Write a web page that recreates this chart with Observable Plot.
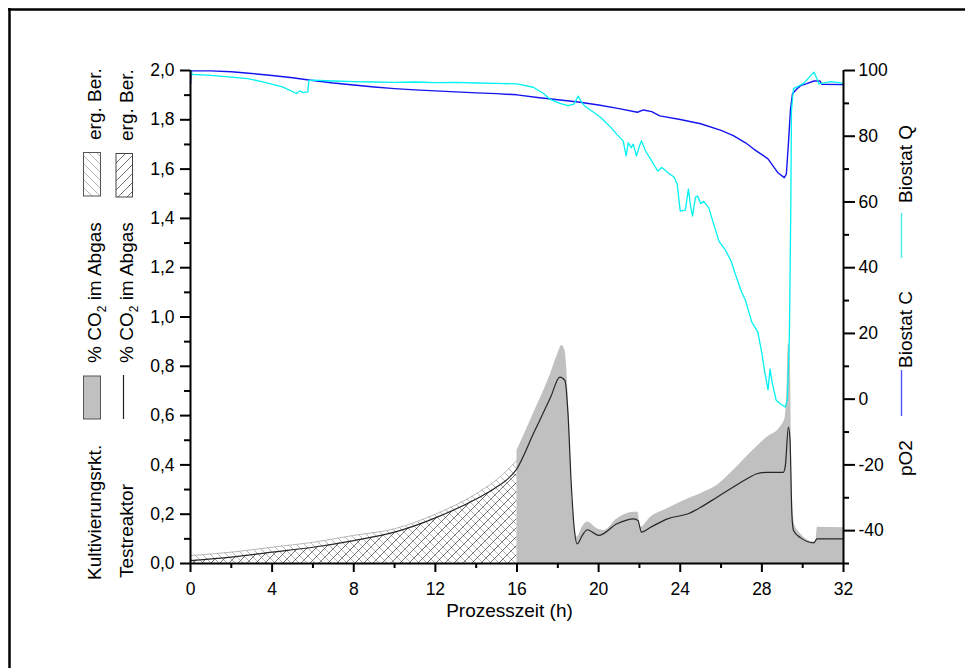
<!DOCTYPE html>
<html>
<head>
<meta charset="utf-8">
<script src="https://cdn.jsdelivr.net/npm/d3@7"></script>
<script src="https://cdn.jsdelivr.net/npm/@observablehq/plot@0.6"></script>
<style>
  html, body { margin: 0; padding: 0; background: #fff; overflow: hidden; }
  #chart svg { display: block; }
</style>
</head>
<body>
<div id="chart"></div>
<script>
// ---------- data ----------
// Time axis ticks (h)
const xTicks = [0, 4, 8, 12, 16, 20, 24, 28, 32];
const xMinor = [2, 6, 10, 14, 18, 22, 26, 30];
// Left axis (% CO2)
const leftTicks = [0, 0.2, 0.4, 0.6, 0.8, 1.0, 1.2, 1.4, 1.6, 1.8, 2.0];
const leftMinor = [0.1, 0.3, 0.5, 0.7, 0.9, 1.1, 1.3, 1.5, 1.7, 1.9];
// Right axis (pO2)
const rightTicks = [-40, -20, 0, 20, 40, 60, 80, 100];
const rightMinor = [-50, -30, -10, 10, 30, 50, 70, 90];

// Kultivierungsrkt. % CO2 – supplemented calculation (hatched, 0–16 h)
const kultCalcT = [0, 2, 4, 6, 8, 10, 12, 14, 15, 16];
const kultCalcV = [0.032, 0.046, 0.066, 0.086, 0.114, 0.141, 0.200, 0.283, 0.340, 0.418];

// Kultivierungsrkt. % CO2 im Abgas (grey area, 16–32 h)
const kultT = [16, 16.8, 17.65, 18.0, 18.2, 18.35, 18.55, 18.7, 18.95, 19.2, 19.45, 19.93, 20.25, 20.9, 21.73, 21.93, 22.05, 22.55, 23.37, 24.2, 25.0, 25.8, 26.6, 27.4, 28.25, 28.9, 29.15, 29.25, 29.3, 29.38, 29.5, 29.6, 29.9, 30.55, 30.65, 30.72, 32];
const kultV = [0.458, 0.607, 0.770, 0.850, 0.884, 0.864, 0.608, 0.270, 0.107, 0.147, 0.168, 0.141, 0.134, 0.181, 0.208, 0.208, 0.147, 0.188, 0.222, 0.256, 0.283, 0.316, 0.377, 0.445, 0.512, 0.553, 0.593, 0.750, 0.890, 0.880, 0.270, 0.160, 0.120, 0.087, 0.090, 0.147, 0.145];

// Testreaktor % CO2 im Abgas (black line; 0–16 h hatched "erg. Ber.")
const testT = [0, 2, 4, 6, 8, 10, 12, 14, 15, 16, 16.8, 17.65, 18.1, 18.35, 18.5, 18.65, 18.8, 18.95, 19.2, 19.45, 20.0, 20.9, 21.73, 21.93, 22.1, 22.55, 23.37, 24.45, 25.0, 25.8, 26.6, 27.4, 27.75, 28.25, 29.05, 29.15, 29.3, 29.38, 29.47, 29.55, 29.9, 30.55, 30.7, 32];
const testV = [0.012, 0.026, 0.046, 0.066, 0.093, 0.127, 0.185, 0.262, 0.310, 0.385, 0.526, 0.675, 0.756, 0.742, 0.607, 0.337, 0.147, 0.080, 0.114, 0.137, 0.114, 0.161, 0.181, 0.174, 0.127, 0.147, 0.181, 0.204, 0.228, 0.269, 0.310, 0.350, 0.364, 0.370, 0.370, 0.397, 0.553, 0.500, 0.200, 0.134, 0.104, 0.084, 0.100, 0.100];

// pO2 Biostat C (blue)
const bioCT = [0, 0.03, 1, 2, 3, 4, 5, 5.8, 7, 8, 9, 10, 11, 12, 13, 14, 15, 16, 17, 18, 19, 20, 21, 21.9, 22.2, 22.6, 23, 24, 25, 26, 26.6, 27.2, 27.6, 28, 28.3, 28.8, 29.1, 29.2, 29.3, 29.4, 29.5, 29.7, 29.9, 30.2, 30.55, 30.85, 30.95, 32];
const bioCV = [96, 99.9, 99.9, 99.6, 99.1, 98.5, 97.8, 97.1, 96.2, 95.6, 95.0, 94.5, 94.1, 93.8, 93.5, 93.2, 92.95, 92.6, 91.8, 91.1, 90.4, 89.5, 88.4, 87.3, 88.0, 87.5, 86.2, 85.1, 83.8, 81.8, 80.2, 78.0, 76.1, 74.4, 73.1, 68.8, 67.4, 68.5, 77.7, 88, 92.9, 94.3, 95.4, 96.0, 96.8, 96.8, 95.8, 95.7];

// pO2 Biostat Q (cyan)
const bioQT = [0, 0.1, 1, 2, 2.8, 3.5, 4.5, 5.2, 5.35, 5.5, 5.75, 5.8, 6, 7, 8, 9, 10, 11, 12, 13, 14, 15, 16, 16.8, 17.3, 17.6, 18.1, 18.5, 18.8, 19.0, 19.15, 19.3, 19.7, 20.1, 20.6, 20.9, 21.2, 21.35, 21.45, 21.6, 21.7, 21.85, 22.0, 22.1, 22.3, 22.5, 22.9, 23.1, 23.4, 23.7, 23.85, 24.0, 24.25, 24.4, 24.5, 24.6, 24.75, 24.85, 25.0, 25.15, 25.4, 25.6, 25.9, 26.2, 26.5, 26.7, 27.0, 27.2, 27.5, 27.8, 28.0, 28.1, 28.3, 28.4, 28.5, 28.7, 28.9, 29.15, 29.25, 29.35, 29.42, 29.45, 29.55, 30.05, 30.4, 30.55, 30.7, 30.8, 31.4, 32];
const bioQV = [100, 98.8, 98.5, 98.0, 97.5, 96.6, 95.0, 93.0, 93.8, 93.3, 93.5, 97.0, 97.1, 96.8, 96.6, 96.5, 96.4, 96.5, 96.3, 96.4, 96.2, 96.1, 95.9, 94.9, 93.0, 91.3, 90.0, 89.3, 89.8, 92.2, 90.5, 89.3, 87.5, 85.7, 82.7, 80.5, 78.6, 74.0, 78.0, 76.5, 77.6, 74.0, 77.0, 78.6, 75.5, 73.5, 69.4, 70.5, 68.9, 67.5, 65.4, 57.2, 57.5, 63.9, 59.0, 55.7, 61.5, 61.8, 59.5, 60.2, 58.2, 54.0, 48.0, 45.5, 41.9, 38.0, 32.7, 30.0, 23.5, 20.5, 14.0, 9.8, 2.8, 9.2, 5.2, -0.3, -1.4, -2.4, 0.1, 20, 60, 87.8, 94.5, 96.1, 98.5, 99.5, 97.5, 95.9, 96.6, 96.1];

// ---------- build tables ----------
const zipTV = (T, V) => T.map((t, i) => ({t, v: V[i]}));
const kultCalc = zipTV(kultCalcT, kultCalcV);
const kult = zipTV(kultT, kultV);
const test = zipTV(testT, testV);
const testCalc = test.filter(d => d.t <= 16);
const bioC = zipTV(bioCT, bioCV);
const bioQ = zipTV(bioQT, bioQV);

// pO2 (-50..100) mapped onto the left scale (0..2)
const toLeft = p => (p + 50) / 75;
const fromLeft = y => Math.round(y * 75 - 50);

const FONT = "'Liberation Sans', Arial, Helvetica, sans-serif";
const comma = d => d.toFixed(1).replace(".", ",");

const chart = Plot.plot({
  width: 965,
  height: 668,
  marginLeft: 190,
  marginRight: 122,
  marginTop: 70,
  marginBottom: 105,
  x: {domain: [0, 32], label: null},
  y: {domain: [0, 2], label: null},
  style: {fontFamily: FONT, fontSize: "17.5px", background: "#fff", color: "#000", overflow: "visible"},
  marks: [
    // hatched supplemented calculations (0-16 h)
    Plot.areaY(kultCalc, {x: "t", y: "v", fill: "url(#hatchGray)", curve: "monotone-x"}),
    Plot.lineY(kultCalc, {x: "t", y: "v", stroke: "#b8b8b8", strokeWidth: 1, curve: "monotone-x"}),
    Plot.areaY(testCalc, {x: "t", y: "v", fill: "url(#hatchBlack)", curve: "monotone-x"}),
    // measured grey area
    Plot.areaY(kult, {x: "t", y: "v", fill: "#c0c0c0", curve: "monotone-x"}),
    // Testreaktor line
    Plot.lineY(test, {x: "t", y: "v", stroke: "#262626", strokeWidth: 1.2, curve: "monotone-x"}),
    // pO2 lines
    Plot.lineY(bioC, {x: "t", y: d => toLeft(d.v), stroke: "#1414f0", strokeWidth: 1.4}),
    Plot.lineY(bioQ, {x: "t", y: d => toLeft(d.v), stroke: "#00f2f2", strokeWidth: 1.3}),
    // axis lines
    Plot.ruleX([0, 32], {stroke: "#000", strokeWidth: 2}),
    Plot.ruleY([0], {stroke: "#000", strokeWidth: 2}),
    // x axis
    Plot.axisX({ticks: xTicks, tickSize: 9, tickPadding: 10, strokeWidth: 2, tickFormat: d => String(d), label: null}),
    Plot.axisX({ticks: xMinor, tickSize: 5, strokeWidth: 2, tickFormat: () => "", label: null}),
    // left axis
    Plot.axisY({anchor: "left", ticks: leftTicks, tickSize: 10, tickPadding: 6, strokeWidth: 2, tickFormat: comma, label: null}),
    Plot.axisY({anchor: "left", ticks: leftMinor, tickSize: 6, strokeWidth: 2, tickFormat: () => "", label: null}),
    // right axis (pO2)
    Plot.axisY({anchor: "right", ticks: rightTicks.map(toLeft), tickSize: 11, tickPadding: 4, strokeWidth: 2, tickFormat: y => String(fromLeft(y)), label: null}),
    Plot.axisY({anchor: "right", ticks: rightMinor.map(toLeft), tickSize: 5, strokeWidth: 2, tickFormat: () => "", label: null})
  ]
});

document.getElementById("chart").appendChild(chart);

// ---------- patterns, frame and legends ----------
const svg = d3.select(chart);
const defs = svg.insert("defs", ":first-child");
const pg = defs.append("pattern").attr("id", "hatchGray").attr("patternUnits", "userSpaceOnUse")
  .attr("width", 8).attr("height", 8);
pg.append("rect").attr("width", 8).attr("height", 8).attr("fill", "#fff");
pg.append("path").attr("d", "M-2,-2L10,10M-2,6L2,10M6,-2L10,2").attr("stroke", "#b4b4b4").attr("stroke-width", 1);
const pb = defs.append("pattern").attr("id", "hatchBlack").attr("patternUnits", "userSpaceOnUse")
  .attr("width", 9).attr("height", 9);
pb.append("path").attr("d", "M-2,11L11,-2M-2,2L2,-2M7,11L11,7").attr("stroke", "#333").attr("stroke-width", 0.7);

const deco = svg.append("g").attr("font-family", FONT).attr("fill", "#000").attr("text-anchor", "start");
// outer frame (top and left edges)
deco.append("line").attr("x1", 8).attr("x2", 965).attr("y1", 9.5).attr("y2", 9.5).attr("stroke", "#000").attr("stroke-width", 2.5);
deco.append("line").attr("x1", 9.5).attr("x2", 9.5).attr("y1", 8).attr("y2", 668).attr("stroke", "#000").attr("stroke-width", 2.5);

// x axis title
deco.append("text").attr("x", 509.5).attr("y", 616.5).attr("text-anchor", "middle")
  .attr("font-size", 19).text("Prozesszeit (h)");

function vtext(x, y, str, size = 19) {
  return deco.append("text").attr("transform", `translate(${x},${y}) rotate(-90)`)
    .attr("font-size", size).text(str);
}
function vco2(x, y) {
  const t = deco.append("text").attr("transform", `translate(${x},${y}) rotate(-90)`).attr("font-size", 19);
  t.append("tspan").text("% CO");
  t.append("tspan").attr("font-size", 12).attr("dy", 5).text("2");
  t.append("tspan").attr("dy", -5).text(" im Abgas");
}
// left legend, column 1 (Kultivierungsreaktor)
vtext(101, 580, "Kultivierungsrkt.");
deco.append("rect").attr("x", 83.5).attr("y", 376).attr("width", 17).attr("height", 43)
  .attr("fill", "#c0c0c0").attr("stroke", "#555").attr("stroke-width", 1);
vco2(101, 363);
deco.append("rect").attr("x", 83.5).attr("y", 152.5).attr("width", 17).attr("height", 43.5)
  .attr("fill", "url(#hatchGray)").attr("stroke", "#555").attr("stroke-width", 1);
vtext(101, 140, "erg. Ber.");
// left legend, column 2 (Testreaktor)
vtext(133, 578, "Testreaktor");
deco.append("line").attr("x1", 123.5).attr("x2", 123.5).attr("y1", 375).attr("y2", 419)
  .attr("stroke", "#222").attr("stroke-width", 1.2);
vco2(133, 363);
deco.append("rect").attr("x", 116).attr("y", 153.5).attr("width", 16.5).attr("height", 43.5)
  .attr("fill", "url(#hatchBlack)").attr("stroke", "#444").attr("stroke-width", 1);
vtext(133, 141, "erg. Ber.");
// right legend (pO2)
vtext(912, 476, "pO2");
deco.append("line").attr("x1", 901.5).attr("x2", 901.5).attr("y1", 370).attr("y2", 416)
  .attr("stroke", "#5050ff").attr("stroke-width", 1.4);
vtext(912, 368, "Biostat C");
deco.append("line").attr("x1", 901.5).attr("x2", 901.5).attr("y1", 213).attr("y2", 258)
  .attr("stroke", "#40f0f0").attr("stroke-width", 1.4);
vtext(912, 203, "Biostat Q");
</script>
</body>
</html>
